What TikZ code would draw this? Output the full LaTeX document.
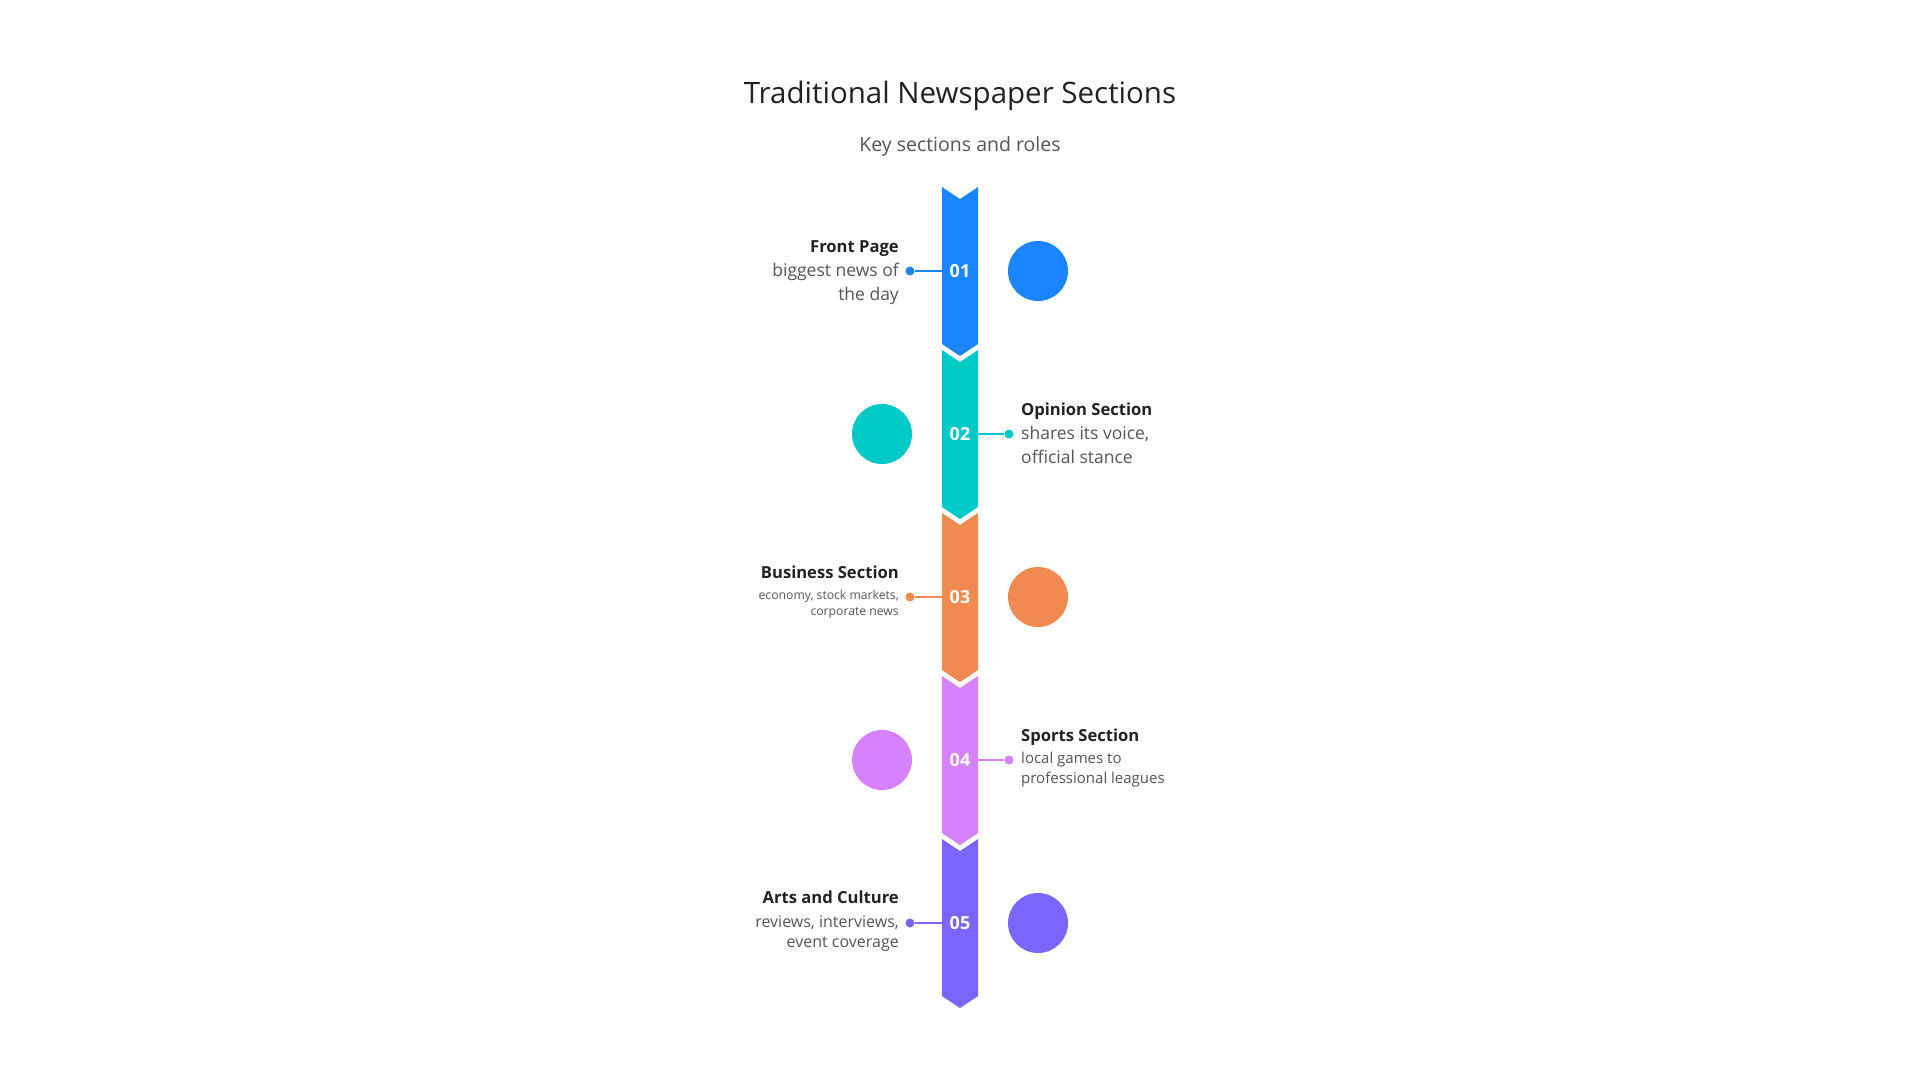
\documentclass[tikz,border=0pt]{standalone}
\usepackage{fontspec}
\setmainfont{Open Sans}
\definecolor{cA}{HTML}{1A85FF}
\definecolor{cB}{HTML}{00C9C8}
\definecolor{cC}{HTML}{F08A50}
\definecolor{cD}{HTML}{D682FF}
\definecolor{cE}{HTML}{7A66FF}
\definecolor{ttl}{HTML}{222222}
\definecolor{dsc}{HTML}{555555}
\tikzset{
  lbl/.style={inner sep=0pt, font=\fontsize{16.6}{20}\selectfont\bfseries, text=ttl},
  desc/.style={inner sep=0pt, font=\fontsize{17.5}{20}\selectfont, text=dsc},
  descs/.style={inner sep=0pt, font=\fontsize{12.2}{15}\selectfont, text=dsc},
  descm/.style={inner sep=0pt, font=\fontsize{15}{18}\selectfont, text=dsc},
  num/.style={inner sep=0pt, font=\fontsize{18}{20}\selectfont\bfseries, text=white},
  blob/.style={circle, inner sep=0pt, minimum size=60pt},
  pin/.style={circle, inner sep=0pt, minimum size=9pt},
  link/.style={line width=2.5pt}
}
\begin{document}
\begin{tikzpicture}[x=1pt,y=-1pt]
\useasboundingbox[fill=white] (0,0) rectangle (1920,1080);
\node[inner sep=0pt, anchor=base, font=\fontsize{29.5}{32}\selectfont, text=ttl] (title) at (960,103) {Traditional Newspaper Sections};
\node[inner sep=0pt, anchor=base, font=\fontsize{19.5}{22}\selectfont, text=dsc] (sub) at (960,151) {Key sections and roles};
% segments
\foreach \c/\col/\n in {271/cA/1,434/cB/2,597/cC/3,760/cD/4,923/cE/5}{
  \fill[\col] (942,\c-84) -- (960,\c-72) -- (978,\c-84) -- (978,\c+73) -- (960,\c+85) -- (942,\c+73) -- cycle;
  \node[num] (n\n) at (960,\c) {0\n};
}
% item 1 (left)
\node[pin, fill=cA] (p1) at (910,271) {};
\draw[link, cA] (p1) -- (942,271);
\node[blob, fill=cA] (b1) at (1038,271) {};
\node[lbl, anchor=base east] (t1) at (899,252) {Front Page};
\node[desc, anchor=base east] (d1a) at (899,276) {biggest news of};
\node[desc, anchor=base east] (d1b) at (899,300) {the day};
% item 2 (right)
\node[pin, fill=cB] (p2) at (1009,434) {};
\draw[link, cB] (978,434) -- (p2);
\node[blob, fill=cB] (b2) at (882,434) {};
\node[lbl, anchor=base west] (t2) at (1021,415) {Opinion Section};
\node[desc, anchor=base west] (d2a) at (1021,439) {shares its voice,};
\node[desc, anchor=base west] (d2b) at (1021,463) {official stance};
% item 3 (left)
\node[pin, fill=cC] (p3) at (910,597) {};
\draw[link, cC] (p3) -- (942,597);
\node[blob, fill=cC] (b3) at (1038,597) {};
\node[lbl, anchor=base east] (t3) at (899,578) {Business Section};
\node[descs, anchor=base east] (d3a) at (899,599) {economy, stock markets,};
\node[descs, anchor=base east] (d3b) at (899,615) {corporate news};
% item 4 (right)
\node[pin, fill=cD] (p4) at (1009,760) {};
\draw[link, cD] (978,760) -- (p4);
\node[blob, fill=cD] (b4) at (882,760) {};
\node[lbl, anchor=base west] (t4) at (1021,741) {Sports Section};
\node[descm, anchor=base west] (d4a) at (1021,763) {local games to};
\node[descm, anchor=base west] (d4b) at (1021,783) {professional leagues};
% item 5 (left)
\node[pin, fill=cE] (p5) at (910,923) {};
\draw[link, cE] (p5) -- (942,923);
\node[blob, fill=cE] (b5) at (1038,923) {};
\node[lbl, anchor=base east] (t5) at (899,903) {Arts and Culture};
\node[descm, font=\fontsize{16}{19}\selectfont, anchor=base east] (d5a) at (899,927) {reviews, interviews,};
\node[descm, font=\fontsize{16}{19}\selectfont, anchor=base east] (d5b) at (899,947) {event coverage};
\end{tikzpicture}
\end{document}
